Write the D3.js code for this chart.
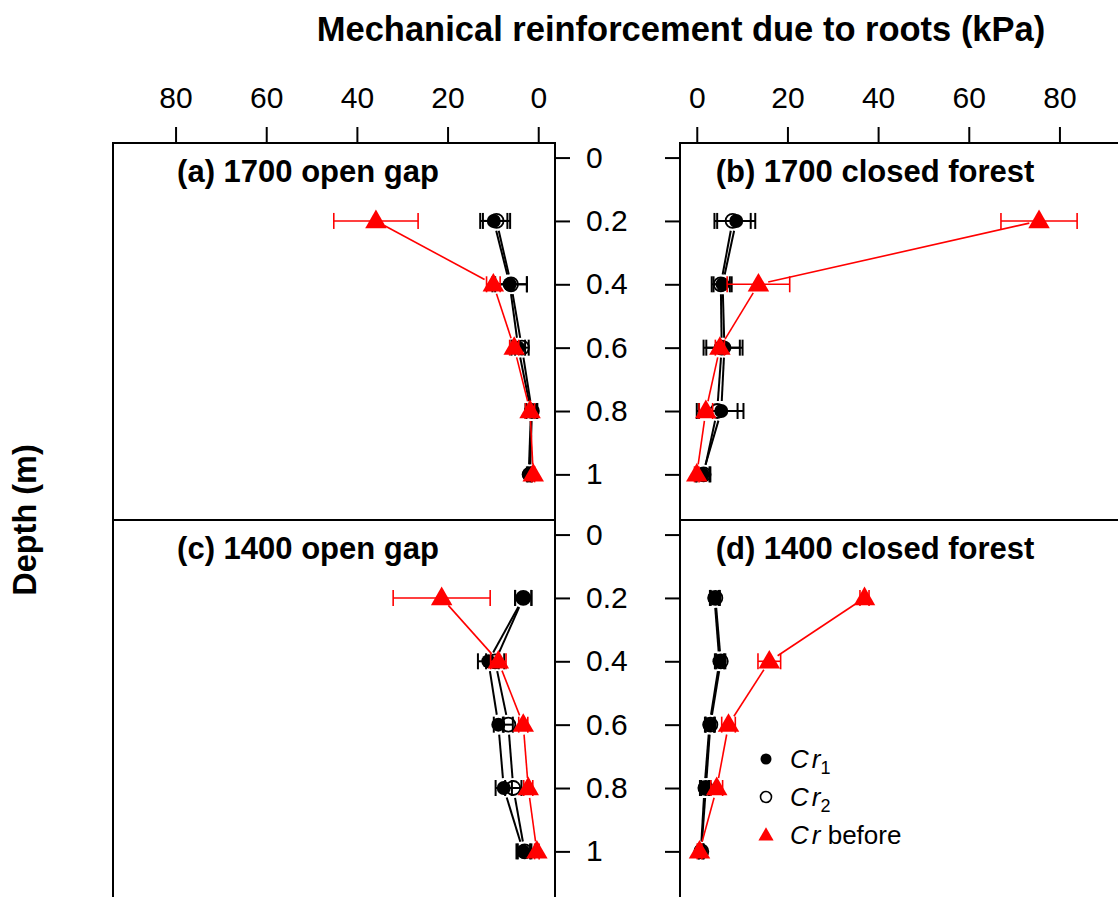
<!DOCTYPE html>
<html>
<head>
<meta charset="utf-8">
<script src="https://cdn.jsdelivr.net/npm/d3@7"></script>
<style>
  body { margin: 0; background: #fff; }
  svg { display: block; font-family: "Liberation Sans", Arial, sans-serif; }
</style>
</head>
<body>
<svg id="chart" width="1118" height="897"></svg>
<script>
// depth of each sample (m)
var depths = [0.2, 0.4, 0.6, 0.8, 1.0]
var depthTicks = [0, 0.2, 0.4, 0.6, 0.8, 1]
var crTicks = [0, 20, 40, 60, 80]

var panelTitles = ["(a) 1700 open gap", "(b) 1700 closed forest", "(c) 1400 open gap", "(d) 1400 closed forest"]

// (a) 1700 open gap
var aCr1 = [9.8, 6.3, 4.4, 1.6, 2.1], aCr1Err = [3.0, 3.8, 1.5, 1.2, 0.4]
var aCr2 = [9.2, 6.0, 3.6, 1.4, 1.8], aCr2Err = [3.0, 3.5, 1.5, 1.2, 0.4]
var aBefore = [35.8, 9.9, 5.3, 1.8, 1.1], aBeforeErr = [9.3, 1.5, 1.0, 1.0, 0.3]

// (b) 1700 closed forest
var bCr1 = [8.7, 5.7, 6.1, 5.4, 1.3], bCr1Err = [4.2, 2.0, 4.0, 4.9, 1.5]
var bCr2 = [7.9, 5.3, 5.5, 4.5, 1.5], bCr2Err = [4.0, 2.0, 4.0, 4.5, 1.5]
var bBefore = [75.5, 13.6, 5.1, 2.0, 0.0], bBeforeErr = [8.4, 6.9, 1.0, 1.5, 0.5]

// (c) 1400 open gap
var cCr1 = [3.3, 11.0, 8.8, 7.6, 3.3], cCr1Err = [1.8, 2.3, 1.0, 1.8, 1.5]
var cCr2 = [3.3, 9.5, 6.6, 5.5, 3.0], cCr2Err = [1.8, 2.0, 1.0, 1.8, 1.5]
var cBefore = [21.3, 8.8, 3.3, 2.2, 0.3], cBeforeErr = [10.7, 1.7, 1.0, 1.0, 0.5]

// (d) 1400 closed forest
var dCr1 = [3.9, 5.0, 2.8, 1.7, 0.9], dCr1Err = [1.0, 1.0, 1.0, 1.0, 0.5]
var dCr2 = [4.1, 5.3, 3.0, 2.0, 1.0], dCr2Err = [1.0, 1.0, 1.0, 1.0, 0.5]
var dBefore = [37.0, 16.0, 7.0, 4.4, 0.6], dBeforeErr = [1.0, 2.5, 1.5, 1.3, 0.5]

var panels = [
    { title: panelTitles[0], col: 0, row: 0, cr1: aCr1, e1: aCr1Err, cr2: aCr2, e2: aCr2Err, bef: aBefore, eb: aBeforeErr },
    { title: panelTitles[1], col: 1, row: 0, cr1: bCr1, e1: bCr1Err, cr2: bCr2, e2: bCr2Err, bef: bBefore, eb: bBeforeErr },
    { title: panelTitles[2], col: 0, row: 1, cr1: cCr1, e1: cCr1Err, cr2: cCr2, e2: cCr2Err, bef: cBefore, eb: cBeforeErr },
    { title: panelTitles[3], col: 1, row: 1, cr1: dCr1, e1: dCr1Err, cr2: dCr2, e2: dCr2Err, bef: dBefore, eb: dBeforeErr }
]

var svg = d3.select("#chart")

var colX = [[113, 555], [680, 1122]]
var rowY = [[143, 520], [520, 897]]
var xDomain = [-3.7, 93.8]
var yDomain = [-0.046, 1.144]

// left column runs right-to-left
var xScales = [
    d3.scaleLinear().domain([xDomain[1], xDomain[0]]).range(colX[0]),
    d3.scaleLinear().domain(xDomain).range(colX[1])
]
var yScales = rowY.map(function (r) { return d3.scaleLinear().domain(yDomain).range(r) })

// main title
svg.append("text")
    .attr("x", 681)
    .attr("y", 41)
    .attr("text-anchor", "middle")
    .style("font-size", "34.5px")
    .style("font-weight", "bold")
    .text("Mechanical reinforcement due to roots (kPa)")

svg.append("text")
    .attr("transform", "translate(36,520) rotate(-90)")
    .attr("text-anchor", "middle")
    .style("font-size", "32.5px")
    .style("font-weight", "bold")
    .text("Depth (m)")

// top x axes
xScales.forEach(function (x) {
    var g = svg.append("g")
        .attr("transform", "translate(0," + rowY[0][0] + ")")
        .call(d3.axisTop(x).tickValues(crTicks).tickSize(16).tickPadding(19))
    g.select(".domain").remove()
    g.selectAll("line").attr("stroke-width", 2)
    g.selectAll("text").style("font-size", "30px").style("font-family", "Liberation Sans, Arial, sans-serif")
})

// y axes between the columns
yScales.forEach(function (y) {
    var gl = svg.append("g")
        .attr("transform", "translate(" + colX[0][1] + ",0)")
        .call(d3.axisRight(y).tickValues(depthTicks).tickFormat(function (d) { return d }).tickSize(15).tickPadding(16))
    gl.select(".domain").remove()
    gl.selectAll("line").attr("stroke-width", 2)
    gl.selectAll("text").style("font-size", "30px").style("font-family", "Liberation Sans, Arial, sans-serif")

    var gr = svg.append("g")
        .attr("transform", "translate(" + colX[1][0] + ",0)")
        .call(d3.axisLeft(y).tickValues(depthTicks).tickFormat("").tickSize(15))
    gr.select(".domain").remove()
    gr.selectAll("line").attr("stroke-width", 2)
})

// panel frames (bottom row runs off the page)
panels.forEach(function (p) {
    svg.append("rect")
        .attr("x", colX[p.col][0])
        .attr("y", rowY[p.row][0])
        .attr("width", colX[p.col][1] - colX[p.col][0])
        .attr("height", rowY[p.row][1] - rowY[p.row][0] + (p.row === 1 ? 4 : 0))
        .attr("fill", "none")
        .attr("stroke", "#000")
        .attr("stroke-width", 2)
})

var gapPx = 10

function drawSeries(g, x, y, vals, errs, color, shape, lw) {
    var pts = vals.map(function (v, i) { return { x: x(v), y: y(depths[i]), lo: x(v - errs[i]), hi: x(v + errs[i]) } })

    // connecting segments with a gap around the symbols (type = "b")
    for (var i = 0; i < pts.length - 1; i++) {
        var a = pts[i], b = pts[i + 1]
        var dx = b.x - a.x, dy = b.y - a.y, len = Math.sqrt(dx * dx + dy * dy)
        if (len <= 2 * gapPx) continue
        var ux = dx / len, uy = dy / len
        g.append("line")
            .attr("x1", a.x + ux * gapPx).attr("y1", a.y + uy * gapPx)
            .attr("x2", b.x - ux * gapPx).attr("y2", b.y - uy * gapPx)
            .attr("stroke", color).attr("stroke-width", lw)
    }

    // error bars
    var eb = g.selectAll(null).data(pts).enter().append("g")
    eb.append("line")
        .attr("x1", function (d) { return d.lo }).attr("x2", function (d) { return d.hi })
        .attr("y1", function (d) { return d.y }).attr("y2", function (d) { return d.y })
        .attr("stroke", color).attr("stroke-width", lw)
    ;["lo", "hi"].forEach(function (k) {
        eb.append("line")
            .attr("x1", function (d) { return d[k] }).attr("x2", function (d) { return d[k] })
            .attr("y1", function (d) { return d.y - 8 }).attr("y2", function (d) { return d.y + 8 })
            .attr("stroke", color).attr("stroke-width", lw)
    })

    // symbols
    if (shape === "filled") {
        g.selectAll(null).data(pts).enter().append("circle")
            .attr("cx", function (d) { return d.x }).attr("cy", function (d) { return d.y })
            .attr("r", 7).attr("fill", "#000")
    } else if (shape === "open") {
        g.selectAll(null).data(pts).enter().append("circle")
            .attr("cx", function (d) { return d.x }).attr("cy", function (d) { return d.y })
            .attr("r", 7).attr("fill", "none").attr("stroke", "#000").attr("stroke-width", 1.8)
    } else {
        var tri = d3.symbol().type(d3.symbolTriangle).size(200)
        g.selectAll(null).data(pts).enter().append("path")
            .attr("d", tri)
            .attr("transform", function (d) { return "translate(" + d.x + "," + (d.y + 1) + ")" })
            .attr("fill", "red")
    }
}

panels.forEach(function (p) {
    var x = xScales[p.col], y = yScales[p.row]
    var g = svg.append("g")
    drawSeries(g, x, y, p.cr1, p.e1, "#000", "filled", 2)
    drawSeries(g, x, y, p.cr2, p.e2, "#000", "open", 2)
    drawSeries(g, x, y, p.bef, p.eb, "red", "triangle", 1.6)

    var cx = (colX[p.col][0] + colX[p.col][1]) / 2 - 26
    svg.append("text")
        .attr("x", cx)
        .attr("y", rowY[p.row][0] + 39)
        .attr("text-anchor", "middle")
        .style("font-size", "31px")
        .style("font-weight", "bold")
        .text(p.title)
})

// legend in panel (d)
var legX = colX[1][0] + 86, legY = rowY[1][0] + 239
var legend = svg.append("g").attr("transform", "translate(" + legX + "," + legY + ")")
var legendRows = [
    { shape: "filled", main: "Cr", sub: "1", rest: "" },
    { shape: "open", main: "Cr", sub: "2", rest: "" },
    { shape: "triangle", main: "Cr", sub: "", rest: " before" }
]
legendRows.forEach(function (r, i) {
    var yy = i * 38
    if (r.shape === "filled") {
        legend.append("circle").attr("cx", 0).attr("cy", yy).attr("r", 5.5).attr("fill", "#000")
    } else if (r.shape === "open") {
        legend.append("circle").attr("cx", 0).attr("cy", yy).attr("r", 5.5).attr("fill", "none").attr("stroke", "#000").attr("stroke-width", 1.6)
    } else {
        legend.append("path").attr("d", d3.symbol().type(d3.symbolTriangle).size(100)).attr("transform", "translate(0," + (yy + 1) + ")").attr("fill", "red")
    }
    var t = legend.append("text").attr("x", 24).attr("y", yy + 9).style("font-size", "26px")
    t.append("tspan").style("font-style", "italic").text("C")
    t.append("tspan").attr("dx", 3).style("font-style", "italic").text("r")
    if (r.sub) t.append("tspan").attr("dy", 6).style("font-size", "18px").text(r.sub)
    if (r.rest) t.append("tspan").text(r.rest)
})
</script>
</body>
</html>
